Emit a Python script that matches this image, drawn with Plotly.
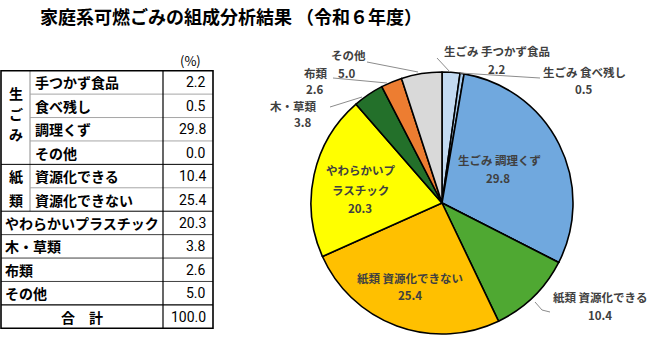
import plotly.graph_objects as go

# ---------------- data ----------------
title_text = "家庭系可燃ごみの組成分析結果 （令和６年度）"
group_names = ["生ごみ", "紙類"]
group_rows = [[0, 1, 2, 3], [4, 5]]
items = ["手つかず食品", "食べ残し", "調理くず", "その他", "資源化できる", "資源化できない",
         "やわらかいプラスチック", "木・草類", "布類", "その他"]
values = [2.2, 0.5, 29.8, 0.0, 10.4, 25.4, 20.3, 3.8, 2.6, 5.0]
total_label = "合　計"
total_value = 100.0
unit_label = "(%)"
pie_names = ["生ごみ 手つかず食品", "生ごみ 食べ残し", "生ごみ 調理くず", "生ごみ その他",
             "紙類 資源化できる", "紙類 資源化できない", "やわらかいプラスチック",
             "木・草類", "布類", "その他"]
slice_colors = ["#C3DAF1", "#A9CBEC", "#70A8DE", "#70A8DE", "#4FA832", "#FFC000",
                "#FFFF00", "#23702A", "#ED7D31", "#D9D9D9"]

W, H = 660, 352
JP = "Noto Sans CJK JP"
NUM = "Liberation Sans Narrow, Roboto, sans-serif"

fig = go.Figure()

# ---------------- pie ----------------
cx, cy, R = 442, 203, 131
fig.add_trace(go.Pie(
    labels=pie_names, values=values, sort=False, direction="clockwise", rotation=0,
    marker=dict(colors=slice_colors, line=dict(color="black", width=1.6)),
    textinfo="none", hoverinfo="label+value", showlegend=False,
    domain=dict(x=[(cx - R) / W, (cx + R) / W], y=[1 - (cy + R) / H, 1 - (cy - R) / H]),
))

# invisible pixel-space axes for table & annotations
fig.add_trace(go.Scatter(x=[0, W], y=[0, H], mode="markers", marker=dict(opacity=0),
                         hoverinfo="skip", showlegend=False))

annotations = []
shapes = []

def txt(x, y, s, size=14, color="black", anchor="center", family=JP, weight="bold"):
    annotations.append(dict(x=x, y=y, xref="x", yref="y", text=s, showarrow=False,
                            xanchor=anchor, yanchor="middle",
                            font=dict(family=family, size=size, color=color, weight=weight)))

def line(x0, y0, x1, y1, color="black", width=1, dash="solid"):
    shapes.append(dict(type="line", xref="x", yref="y", x0=x0, y0=y0, x1=x1, y1=y1,
                       line=dict(color=color, width=width, dash=dash)))

# title
txt(231, 16, title_text, size=18)

# ---------------- table ----------------
T_top, T_bot = 70.7, 328.3
n_rows = len(items) + 1
rh = (T_bot - T_top) / n_rows
x_left, x_grp, x_val, x_right = 1, 30, 163, 213

def row_c(i):
    return T_top + (i + 0.5) * rh

def row_b(i):
    return T_top + (i + 1) * rh

txt(190, 60, unit_label, size=13, family=JP, weight="normal")

grouped = {r: g for g, rows in enumerate(group_rows) for r in rows}
for i, (name, v) in enumerate(zip(items, values)):
    if i in grouped:
        txt(x_grp + 3, row_c(i), name, anchor="left")
    else:
        txt(x_left + 2, row_c(i), name, anchor="left")
    txt(x_right - 5, row_c(i), f"{v:.1f}", size=14, family=NUM, weight="normal", anchor="right")
txt((x_left + x_val) / 2, row_c(n_rows - 1), total_label)
txt(x_right - 5, row_c(n_rows - 1), f"{total_value:.1f}", size=14, family=NUM,
    weight="normal", anchor="right")

# group vertical labels
for g, rows in enumerate(group_rows):
    chars = list(group_names[g])
    top = T_top + rows[0] * rh
    span = len(rows) * rh
    n = len(chars)
    if n == len(rows):
        ys = [row_c(r) for r in rows]
    else:
        step = 20.5
        mid = top + span / 2 - 4
        ys = [mid + (k - (n - 1) / 2) * step for k in range(n)]
    for ch, yy in zip(chars, ys):
        txt((x_left + x_grp) / 2, yy, ch)
    # vertical separator
    line(x_grp, top, x_grp, top + span, color="#8C8C8C", width=1)
    # inner row separators
    for r in rows[:-1]:
        line(x_grp, row_b(r), x_right, row_b(r), color="#A6A6A6", width=1)

# separators between groups / single rows
for r in range(len(items)):
    if r in grouped and r != group_rows[grouped[r]][-1]:
        continue
    col = "black" if r in (3, 5, 9) else "#404040"
    line(x_left, row_b(r), x_right, row_b(r), color=col, width=1.2 if r == 9 else 1)

line(x_val, T_top, x_val, T_bot, width=1.2)
shapes.append(dict(type="rect", xref="x", yref="y", x0=x_left, y0=T_top, x1=x_right, y1=T_bot,
                   line=dict(color="black", width=1.6)))

# ---------------- pie labels ----------------
LC = "#404040"
fs = 11.5
# (index, label lines with their y, label x, value pos)
pie_label_layout = [
    (0, [("生ごみ 手つかず食品", 51)], 497, (497, 69)),
    (1, [("生ごみ 食べ残し", 72)], 584, (584, 89)),
    (2, [("生ごみ 調理くず", 160)], 500, (498, 178)),
    (4, [("紙類 資源化できる", 297)], 600, (600, 315)),
    (5, [("紙類 資源化できない", 278)], 410, (410, 295)),
    (6, [("やわらかいプ", 170), ("ラスチック", 190)], 360, (360, 208)),
    (7, [("木・草類", 105.5)], 293, (303, 121.5)),
    (8, [("布類", 73)], 316, (315, 89)),
    (9, [("その他", 55)], 348, (347, 73)),
]
for idx, lines_, lx, (vx, vy) in pie_label_layout:
    for lab, ly in lines_:
        txt(lx, ly, lab, size=fs, color=LC)
    txt(vx, vy, f"{values[idx]:.1f}", size=fs, color=LC, family=JP)

leaders = [
    [(437, 58), (450, 72)],
    [(460, 73), (540, 78)],
    [(367, 62), (418, 72)],
    [(333, 78), (387, 83)],
    [(330, 107), (362, 97)],
    [(535, 302), (542, 310), (550, 312)],
]
for pts in leaders:
    for (x0, y0), (x1, y1) in zip(pts[:-1], pts[1:]):
        line(x0, y0, x1, y1, color="#8C8C8C", width=1)

fig.update_layout(
    width=W, height=H, margin=dict(l=0, r=0, t=0, b=0),
    paper_bgcolor="white", plot_bgcolor="rgba(0,0,0,0)",
    xaxis=dict(range=[0, W], visible=False, domain=[0, 1], fixedrange=True),
    yaxis=dict(range=[H, 0], visible=False, domain=[0, 1], fixedrange=True),
    annotations=annotations, shapes=shapes, showlegend=False,
)

fig.write_html("out.html")
